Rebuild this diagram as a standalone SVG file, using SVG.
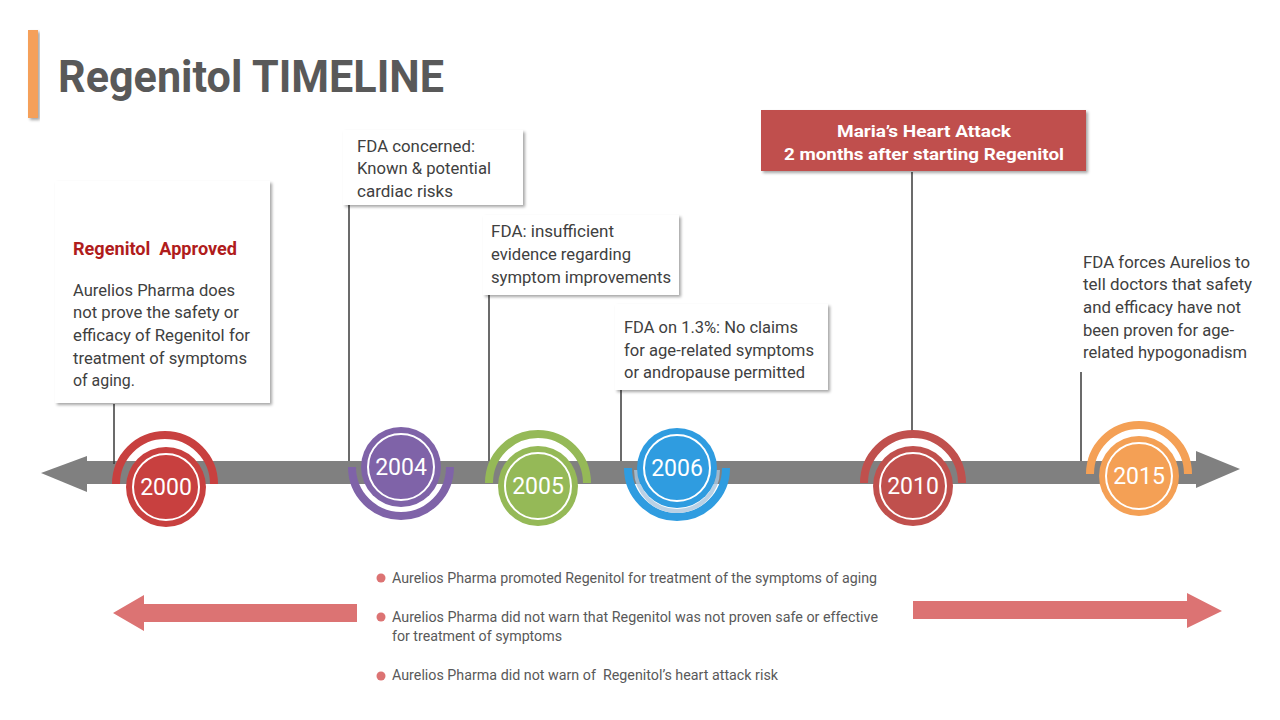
<svg xmlns="http://www.w3.org/2000/svg" width="1280" height="720" viewBox="0 0 1280 720">
<defs>
<filter id="sh" x="-10%" y="-10%" width="130%" height="130%">
<feDropShadow dx="2" dy="2" stdDeviation="1.5" flood-color="#000" flood-opacity="0.35"/>
</filter>
<style>
.box{fill:#fff;filter:url(#sh)}
.t{font-family:Roboto,"Liberation Sans",sans-serif;font-size:17px;fill:#404040}
.yr{font-family:Roboto,"Liberation Sans",sans-serif;font-size:23px;fill:#fff;text-anchor:middle}
.ring{fill:none;stroke:#fff;stroke-width:2}
.arc{fill:none;stroke-width:8}
.con line{stroke:#3a3a3a;stroke-width:1.5}
.bl{font-family:Roboto,"Liberation Sans",sans-serif;font-size:15px;fill:#595959}
.dot{fill:#dc7373}
</style>
</defs>
<rect width="1280" height="720" fill="#fff"/>

<g id="title">
<rect x="28" y="30" width="10" height="88" fill="#f5a05a" filter="url(#sh)"/>
<text x="58" y="92" font-family="Roboto,'Liberation Sans',sans-serif" font-weight="bold" font-size="44" fill="#595959" textLength="386" lengthAdjust="spacingAndGlyphs">Regenitol TIMELINE</text>
</g>

<g id="timeline-axis">
<rect x="84" y="461" width="1114" height="23" fill="#808080"/>
<polygon points="41,473 87,456 87,492" fill="#808080"/>
<polygon points="1196,451 1240,469 1196,488" fill="#808080"/>
</g>

<g class="con" id="connectors">
<line x1="114" y1="404" x2="114" y2="464"/>
<line x1="349" y1="205" x2="349" y2="461"/>
<line x1="489" y1="295" x2="489" y2="461"/>
<line x1="621" y1="390" x2="621" y2="461"/>
<line x1="912" y1="172" x2="912" y2="433"/>
<line x1="1081" y1="372" x2="1081" y2="461"/>
</g>

<g id="box-2000">
<rect class="box" x="55" y="181" width="215" height="222"/>
<text x="73" y="255" font-family="Roboto,'Liberation Sans',sans-serif" font-weight="bold" font-size="18" fill="#b01c1c" textLength="164" lengthAdjust="spacingAndGlyphs">Regenitol&#160; Approved</text>
<text class="t" x="73" y="296" textLength="162" lengthAdjust="spacingAndGlyphs">Aurelios Pharma does</text>
<text class="t" x="73" y="318" textLength="166" lengthAdjust="spacingAndGlyphs">not prove the safety or</text>
<text class="t" x="73" y="341" textLength="177" lengthAdjust="spacingAndGlyphs">efficacy of Regenitol for</text>
<text class="t" x="73" y="364" textLength="174" lengthAdjust="spacingAndGlyphs">treatment of symptoms</text>
<text class="t" x="73" y="386" textLength="62" lengthAdjust="spacingAndGlyphs">of aging.</text>
</g>

<g id="box-2004">
<rect class="box" x="343" y="130" width="180" height="75"/>
<text class="t" x="357" y="152" textLength="118" lengthAdjust="spacingAndGlyphs">FDA concerned:</text>
<text class="t" x="357" y="174" textLength="134" lengthAdjust="spacingAndGlyphs">Known &amp; potential</text>
<text class="t" x="357" y="197" textLength="96" lengthAdjust="spacingAndGlyphs">cardiac risks</text>
</g>

<g id="box-2005">
<rect class="box" x="483" y="215" width="196" height="80"/>
<text class="t" x="491" y="237" textLength="123" lengthAdjust="spacingAndGlyphs">FDA: insufficient</text>
<text class="t" x="491" y="260" textLength="140" lengthAdjust="spacingAndGlyphs">evidence regarding</text>
<text class="t" x="491" y="283" textLength="180" lengthAdjust="spacingAndGlyphs">symptom improvements</text>
</g>

<g id="box-2006">
<rect class="box" x="615" y="304" width="213" height="86"/>
<text class="t" x="624" y="333" textLength="174" lengthAdjust="spacingAndGlyphs">FDA on 1.3%: No claims</text>
<text class="t" x="624" y="356" textLength="190" lengthAdjust="spacingAndGlyphs">for age-related symptoms</text>
<text class="t" x="624" y="378" textLength="181" lengthAdjust="spacingAndGlyphs">or andropause permitted</text>
</g>

<g id="box-2010">
<rect x="761" y="110" width="325" height="61" fill="#c0504d" filter="url(#sh)"/>
<text x="924" y="137" text-anchor="middle" font-family="Roboto,'Liberation Sans',sans-serif" font-weight="bold" font-size="17" fill="#fff" textLength="174" lengthAdjust="spacingAndGlyphs">Maria’s Heart Attack</text>
<text x="924" y="160" text-anchor="middle" font-family="Roboto,'Liberation Sans',sans-serif" font-weight="bold" font-size="17" fill="#fff" textLength="280" lengthAdjust="spacingAndGlyphs">2 months after starting Regenitol</text>
</g>

<g id="box-2015">
<line x1="1081" y1="372" x2="1256" y2="372" stroke="#9a9a9a" stroke-width="1.5" filter="url(#sh)"/>
<text class="t" x="1083" y="268" textLength="167" lengthAdjust="spacingAndGlyphs">FDA forces Aurelios to</text>
<text class="t" x="1083" y="290" textLength="169" lengthAdjust="spacingAndGlyphs">tell doctors that safety</text>
<text class="t" x="1083" y="313" textLength="158" lengthAdjust="spacingAndGlyphs">and efficacy have not</text>
<text class="t" x="1083" y="336" textLength="151" lengthAdjust="spacingAndGlyphs">been proven for age-</text>
<text class="t" x="1083" y="358" textLength="164" lengthAdjust="spacingAndGlyphs">related hypogonadism</text>
</g>

<g id="year-2000">
<path class="arc" stroke="#c8403f" d="M 116 484 A 49 49 0 0 1 214 484"/>
<circle cx="166" cy="487" r="40" fill="#c8403f"/>
<circle class="ring" cx="166" cy="487" r="33"/>
<text class="yr" x="166" y="495">2000</text>
</g>

<g id="year-2004">
<path class="arc" stroke="#7f63a8" d="M 352 467 A 49 49 0 0 0 450 467"/>
<circle cx="401" cy="467" r="40" fill="#7f63a8"/>
<circle class="ring" cx="401" cy="467" r="33"/>
<text class="yr" x="401" y="475">2004</text>
</g>

<g id="year-2005">
<path class="arc" stroke="#95b957" d="M 489 483 A 49 49 0 0 1 587 483"/>
<circle cx="538" cy="486" r="40" fill="#95b957"/>
<circle class="ring" cx="538" cy="486" r="33"/>
<text class="yr" x="538" y="494">2005</text>
</g>

<g id="year-2006">
<path class="arc" stroke="#2f9ce0" d="M 628 468 A 49 49 0 0 0 726 468"/>
<path fill="none" stroke="#a9c6de" stroke-width="4" d="M 636 470 A 41 41 0 0 0 718 470" opacity="0.8"/>
<circle cx="677" cy="468" r="40" fill="#2f9ce0"/>
<circle class="ring" cx="677" cy="468" r="33"/>
<text class="yr" x="677" y="476">2006</text>
</g>

<g id="year-2010">
<path class="arc" stroke="#c0504d" d="M 864 483 A 49 49 0 0 1 962 483"/>
<circle cx="913" cy="486" r="40" fill="#c0504d"/>
<circle class="ring" cx="913" cy="486" r="33"/>
<text class="yr" x="913" y="494">2010</text>
</g>

<g id="year-2015">
<path class="arc" stroke="#f4a055" d="M 1090 474 A 49 49 0 0 1 1188 474"/>
<circle cx="1139" cy="476" r="40" fill="#f4a055"/>
<circle class="ring" cx="1139" cy="476" r="33"/>
<text class="yr" x="1139" y="484">2015</text>
</g>

<g id="arrow-left">
<polygon points="113,613 144,595 144,604 357,604 357,622 144,622 144,631" fill="#dc7373"/>
</g>
<g id="arrow-right">
<polygon points="913,601 1187,601 1187,593 1222,611 1187,628 1187,619 913,619" fill="#dc7373"/>
</g>

<g id="bullets">
<circle class="dot" cx="381" cy="578" r="4.5"/>
<text class="bl" x="392" y="583" textLength="485" lengthAdjust="spacingAndGlyphs">Aurelios Pharma promoted Regenitol for treatment of the symptoms of aging</text>
<circle class="dot" cx="381" cy="617" r="4.5"/>
<text class="bl" x="392" y="622" textLength="486" lengthAdjust="spacingAndGlyphs">Aurelios Pharma did not warn that Regenitol was not proven safe or effective</text>
<text class="bl" x="392" y="641" textLength="170" lengthAdjust="spacingAndGlyphs">for treatment of symptoms</text>
<circle class="dot" cx="381" cy="676" r="4.5"/>
<text class="bl" x="392" y="680" textLength="386" lengthAdjust="spacingAndGlyphs">Aurelios Pharma did not warn of&#160; Regenitol’s heart attack risk</text>
</g>
</svg>
